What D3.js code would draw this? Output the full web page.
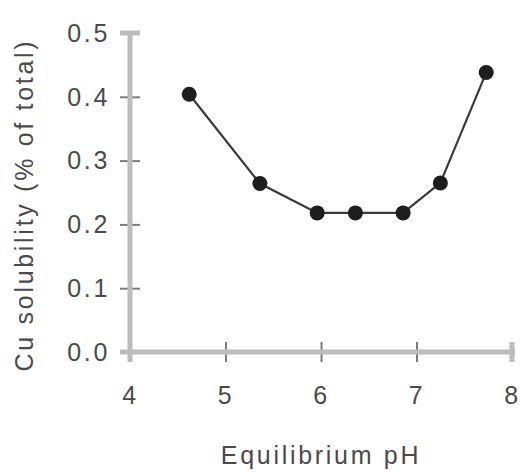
<!DOCTYPE html>
<html>
<head>
<meta charset="utf-8">
<script src="https://cdn.jsdelivr.net/npm/d3@7"></script>
<style>
  body { margin: 0; background: #fff; }
  text { font-family: "Liberation Sans", Arial, sans-serif; fill: #4a4a4a; }
</style>
</head>
<body>
<div id="chart"></div>
<script>
// data
var phValues = [4.62, 5.36, 5.96, 6.36, 6.86, 7.25, 7.73];
var cuSolubility = [0.404, 0.264, 0.218, 0.218, 0.218, 0.265, 0.438];
var xTicks = [4, 5, 6, 7, 8];
var yTicks = [0, 0.1, 0.2, 0.3, 0.4, 0.5];

var width = 520;
var height = 475;

var fontSize = 25;
var spacing = 2.7;

var svg = d3
  .select("#chart")
  .append("svg")
  .attr("width", width)
  .attr("height", height);

var xScale = d3.scaleLinear().domain([4, 8]).range([130, 512]);
var yScale = d3.scaleLinear().domain([0, 0.5]).range([352, 33]);

var axisColor = "#bcbcbc";
var tickColor = "#7c7c7c";

// x axis
var xAxis = d3.axisBottom(xScale).tickValues(xTicks).tickFormat(d3.format("d"));
var gx = svg
  .append("g")
  .attr("transform", "translate(0," + yScale(0) + ")")
  .call(xAxis);
gx.select(".domain").remove();
gx.selectAll(".tick line")
  .attr("y1", -10)
  .attr("y2", 10)
  .attr("stroke", tickColor)
  .attr("stroke-width", 2);
gx.selectAll(".tick text")
  .attr("y", 52)
  .attr("dy", 0)
  .attr("font-size", fontSize)
  .attr("letter-spacing", spacing)
  .attr("fill", "#4a4a4a");

// y axis
var yAxis = d3.axisLeft(yScale).tickValues(yTicks).tickFormat(d3.format(".1f"));
var gy = svg
  .append("g")
  .attr("transform", "translate(" + xScale(4) + ",0)")
  .call(yAxis);
gy.select(".domain").remove();
gy.selectAll(".tick line")
  .attr("x1", -10)
  .attr("x2", 10)
  .attr("stroke", tickColor)
  .attr("stroke-width", 2);
gy.selectAll(".tick text")
  .attr("x", -20)
  .attr("dy", "0.33em")
  .attr("font-size", fontSize)
  .attr("letter-spacing", spacing)
  .attr("fill", "#4a4a4a");

// axis lines
svg
  .append("line")
  .attr("x1", xScale(4) - 10)
  .attr("x2", xScale(8) + 3)
  .attr("y1", yScale(0))
  .attr("y2", yScale(0))
  .attr("stroke", axisColor)
  .attr("stroke-width", 5);
svg
  .append("line")
  .attr("x1", xScale(4))
  .attr("x2", xScale(4))
  .attr("y1", yScale(0) + 10)
  .attr("y2", yScale(0.5))
  .attr("stroke", axisColor)
  .attr("stroke-width", 5);
// end caps
svg
  .append("line")
  .attr("x1", xScale(4) - 10)
  .attr("x2", xScale(4) + 10)
  .attr("y1", yScale(0.5))
  .attr("y2", yScale(0.5))
  .attr("stroke", axisColor)
  .attr("stroke-width", 5);
svg
  .append("line")
  .attr("x1", xScale(8))
  .attr("x2", xScale(8))
  .attr("y1", yScale(0) - 10)
  .attr("y2", yScale(0) + 10)
  .attr("stroke", axisColor)
  .attr("stroke-width", 5);

// axis titles
svg
  .append("text")
  .attr("x", (xScale(4) + xScale(8)) / 2)
  .attr("y", 464)
  .attr("text-anchor", "middle")
  .attr("font-size", fontSize)
  .attr("letter-spacing", spacing)
  .text("Equilibrium pH");

svg
  .append("text")
  .attr("transform", "translate(33," + 205 + ")rotate(-90)")
  .attr("text-anchor", "middle")
  .attr("font-size", fontSize)
  .attr("letter-spacing", spacing)
  .text("Cu solubility (% of total)");

// data line and markers
var points = phValues.map(function (d, i) {
  return { ph: d, cu: cuSolubility[i] };
});

var line = d3
  .line()
  .x(function (d) {
    return xScale(d.ph);
  })
  .y(function (d) {
    return yScale(d.cu);
  });

svg
  .append("path")
  .datum(points)
  .attr("d", line)
  .attr("fill", "none")
  .attr("stroke", "#3a3a3a")
  .attr("stroke-width", 2.2);

svg
  .selectAll("circle.pt")
  .data(points)
  .enter()
  .append("circle")
  .attr("class", "pt")
  .attr("cx", function (d) {
    return xScale(d.ph);
  })
  .attr("cy", function (d) {
    return yScale(d.cu);
  })
  .attr("r", 7.5)
  .attr("fill", "#1e1e1e");
</script>
</body>
</html>
